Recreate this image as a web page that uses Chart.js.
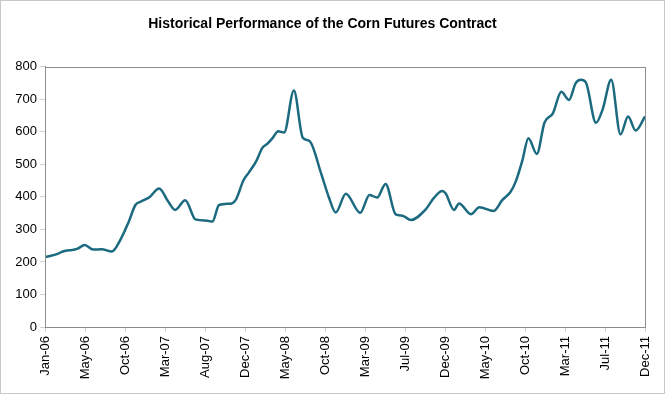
<!DOCTYPE html>
<html>
<head>
<meta charset="utf-8">
<script src="https://cdn.jsdelivr.net/npm/chart.js@4"></script>
<style>
  html, body { margin: 0; padding: 0; background: #fff; }
  #wrap { width: 665px; height: 394px; }
</style>
</head>
<body>
<div id="wrap"><canvas id="cornChart" width="665" height="394"></canvas></div>
<script>
// months counted from Jan-06 (0) to Dec-11 (71)
let monthsFromStart = [0, 1.4, 2.2, 3.2, 3.8, 4.7, 5.7, 6.7, 7.9, 8.9, 9.9, 10.7, 11.3, 12.4, 13.5,
  14.6, 15.4, 16.6, 17.8, 19.2, 19.8, 20.6, 22.1, 22.6, 23.5, 24.1, 25.0, 25.7, 26.3, 26.9, 27.6,
  28.3, 29.45, 30.5, 31.3, 32.7, 33.6, 34.4, 35.6, 37.3, 38.4, 39.3, 40.3, 41.5, 42.3, 43.3, 45.0,
  46.0, 47.0, 47.4, 48.4, 49.0, 50.4, 51.4, 53.1, 54.1, 55.1, 55.7, 56.5, 57.2, 58.2, 59.1, 60.1,
  61.1, 62.0, 62.8, 63.4, 64.0, 65.2, 66.0, 67.0, 68.1, 69.0, 69.9, 71.0];
let prices = [215, 224, 233, 237, 240, 252, 238, 239, 232, 267, 323, 375, 385, 400, 426,
  385, 360, 390, 331, 327, 324, 375, 380, 392, 452, 474, 510, 550, 563, 580, 602,
  598, 727, 582, 572, 470, 398, 352, 410, 351, 406, 398, 440, 346, 342, 329, 360,
  396, 418, 411, 360, 380, 347, 368, 357, 390, 416, 447, 513, 580, 532, 628, 657,
  723, 698, 750, 760, 752, 628, 670, 760, 592, 647, 604, 647];
let tickLabels = ['Jan-06', 'May-06', 'Oct-06', 'Mar-07', 'Aug-07', 'Dec-07', 'May-08', 'Oct-08',
  'Mar-09', 'Jul-09', 'Dec-09', 'May-10', 'Oct-10', 'Mar-11', 'Jul-11', 'Dec-11'];
let lastMonth = 71;

let points = [];
for (let i = 0; i < prices.length; i++) {
  points.push({ x: monthsFromStart[i], y: prices[i] });
}

// plot frame and the thin border round the whole picture
let framePlugin = {
  id: 'frame',
  afterDraw(chart) {
    let ctx = chart.ctx, a = chart.chartArea;
    ctx.save();
    ctx.strokeStyle = '#8c8c8c';
    ctx.lineWidth = 1;
    ctx.strokeRect(Math.round(a.left) + 0.5, Math.round(a.top) + 0.5,
      Math.round(a.right - a.left), Math.round(a.bottom - a.top));
    ctx.strokeStyle = '#c8c8c8';
    ctx.strokeRect(0.5, 0.5, chart.width - 1, chart.height - 1);
    ctx.restore();
  }
};

Chart.defaults.font.family = "'Liberation Sans', Arial, sans-serif";
Chart.defaults.color = '#000';

let ctx = document.getElementById('cornChart').getContext('2d');
let chart = new Chart(ctx, {
  type: 'line',
  data: {
    datasets: [{
      data: points,
      borderColor: '#1b6a80',
      borderWidth: 2.5,
      pointRadius: 0,
      fill: false,
      cubicInterpolationMode: 'monotone'
    }]
  },
  options: {
    responsive: false,
    animation: false,
    layout: { padding: { left: 0, right: 20, top: 0, bottom: 0 } },
    plugins: {
      legend: { display: false },
      tooltip: { enabled: false },
      title: {
        display: true,
        text: 'Historical Performance of the Corn Futures Contract',
        font: { size: 14, weight: 'bold' },
        color: '#000',
        padding: { top: 16, bottom: 34 }
      }
    },
    scales: {
      x: {
        type: 'linear',
        min: 0,
        max: lastMonth,
        afterBuildTicks: function(scale) {
          scale.ticks = tickLabels.map((t, i) => ({ value: i * lastMonth / (tickLabels.length - 1) }));
        },
        afterFit: function(scale) { scale.height = 67; },
        ticks: {
          autoSkip: false,
          maxRotation: 90,
          minRotation: 90,
          font: { size: 13 },
          padding: 4,
          callback: function(value, index) { return tickLabels[index]; }
        },
        grid: { drawOnChartArea: false, drawTicks: true, tickLength: 5, color: '#d0d0d0' },
        border: { color: '#8c8c8c' }
      },
      y: {
        min: 0,
        max: 800,
        afterFit: function(scale) { scale.width = 45; },
        ticks: { stepSize: 100, font: { size: 13 }, padding: 3 },
        grid: { drawOnChartArea: false, drawTicks: true, tickLength: 5, color: '#d0d0d0' },
        border: { color: '#8c8c8c' }
      }
    }
  },
  plugins: [framePlugin]
});
</script>
</body>
</html>
